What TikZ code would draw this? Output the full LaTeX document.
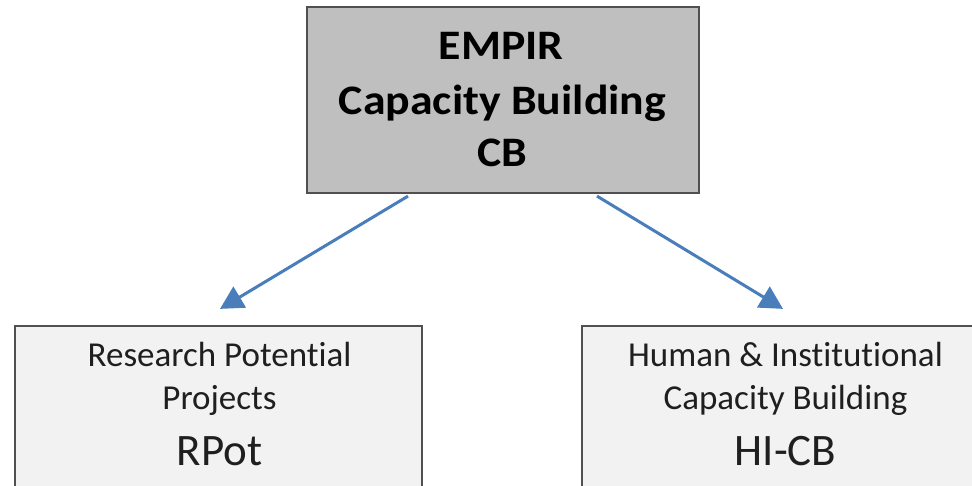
\documentclass[tikz,border=0pt]{standalone}
\usepackage{fontspec}
\setmainfont{Carlito}[Ligatures=NoCommon]
\newfontfamily\headfont{Carlito}[Ligatures=NoCommon, FakeStretch=1.09]
\usetikzlibrary{arrows.meta}

\definecolor{boxline}{HTML}{505050}
\definecolor{topfill}{HTML}{BFBFBF}
\definecolor{subfill}{HTML}{F2F2F2}
\definecolor{arrowblue}{HTML}{4A7EBB}

\tikzset{
  box/.style={draw=boxline, line width=2.2pt, rectangle, inner sep=0pt},
  headbox/.style={box, fill=topfill, minimum width=392pt, minimum height=186pt},
  subbox/.style={box, fill=subfill, minimum width=407pt, minimum height=204pt},
  headtext/.style={anchor=base, inner sep=0pt, font=\headfont\fontsize{42}{50}\selectfont\bfseries},
  smalltext/.style={anchor=base, inner sep=0pt, text=black!88, font=\fontsize{35}{40}\selectfont},
  bigtext/.style={anchor=base, inner sep=0pt, text=black!88, font=\fontsize{45}{52}\selectfont},
  link/.style={draw=arrowblue, line width=3pt, -{Triangle[length=23pt,width=24pt]}}
}

\begin{document}
\begin{tikzpicture}[x=1pt,y=1pt]
  \clip (0,0) rectangle (972,485);
  \fill[white] (0,0) rectangle (972,485);

  % programme box
  \node[headbox] (cb) at (503,385) {};
  \node[headtext] (cb1) at (501,425) {EMPIR};
  \node[headtext] (cb2) at (502.5,370) {Capacity Building};
  \node[headtext] (cb3) at (502,318) {CB};

  % research potential projects
  \node[subbox] (rpot) at (218.5,57) {};
  \node[smalltext] (rp1) at (219.5,118) {Research Potential};
  \node[smalltext] (rp2) at (219.5,76) {Projects};
  \node[bigtext]   (rp3) at (219.5,20) {RPot};

  % human and institutional capacity building
  \node[subbox] (hicb) at (785.5,57) {};
  \node[smalltext] (hi1) at (785.5,118) {Human \& Institutional};
  \node[smalltext] (hi2) at (785.5,76) {Capacity Building};
  \node[bigtext]   (hi3) at (785.5,20) {HI-CB};

  % links
  \draw[link] ([xshift=-95pt,yshift=-2pt]cb.south) -- ([xshift=1.5pt,yshift=16pt]rpot.north);
  \draw[link] ([xshift=94pt,yshift=-2pt]cb.south) -- ([xshift=-2.5pt,yshift=16pt]hicb.north);
\end{tikzpicture}
\end{document}
